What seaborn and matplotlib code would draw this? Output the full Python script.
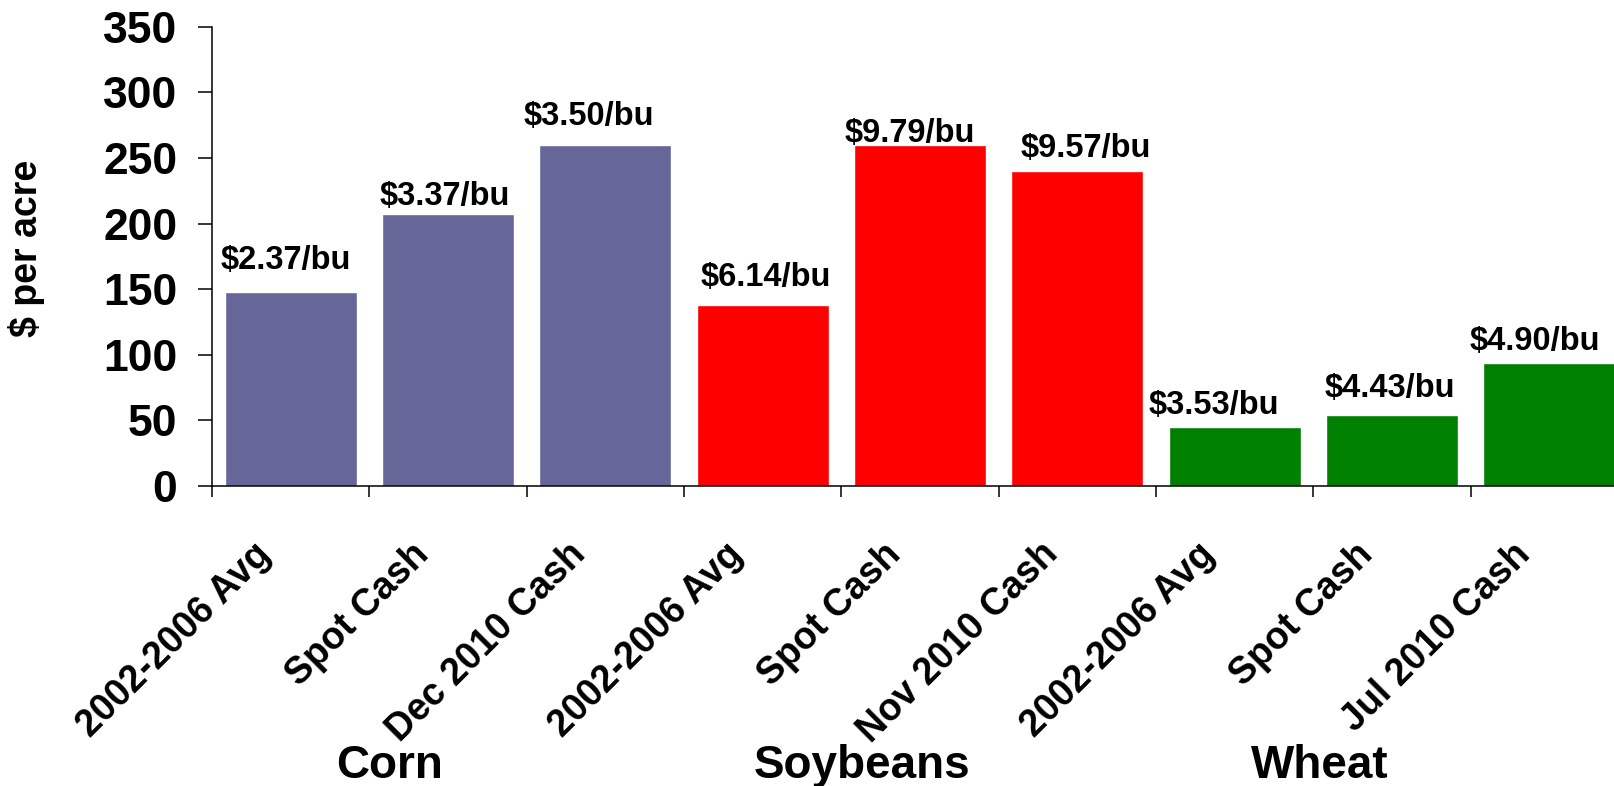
import numpy as np
import pandas as pd
import matplotlib
matplotlib.use("Agg")
import matplotlib.pyplot as plt
import matplotlib.transforms as mtransforms
import seaborn as sns

# ---- data ----
crops = ["Corn", "Corn", "Corn", "Soybeans", "Soybeans", "Soybeans", "Wheat", "Wheat", "Wheat"]
tick_labels = ["2002-2006 Avg", "Spot Cash", "Dec 2010 Cash",
               "2002-2006 Avg", "Spot Cash", "Nov 2010 Cash",
               "2002-2006 Avg", "Spot Cash", "Jul 2010 Cash"]
values = [148, 207, 260, 138, 260, 240, 45, 54, 94]
price_labels = ["$2.37/bu", "$3.37/bu", "$3.50/bu",
                "$6.14/bu", "$9.79/bu", "$9.57/bu",
                "$3.53/bu", "$4.43/bu", "$4.90/bu"]
groups = ["Corn", "Soybeans", "Wheat"]
group_colors = {"Corn": "#666699", "Soybeans": "#FF0000", "Wheat": "#008000"}

# ---- layout / style (not data) ----
label_dx = [-5, -3, -16, 3, -10, 8, -21, -2, -14]   # pixels
label_gap = [23, 9, 20, 19, 3, 14, 13, 18, 13]      # pixels above bar top
group_label_dx = [-0.37, -0.37, -0.46]               # data units from group center

sns.set_theme(style="white")
plt.rcParams["font.family"] = ["Liberation Sans", "DejaVu Sans"]
plt.rcParams["font.weight"] = "bold"
for k in ["text.color", "axes.labelcolor", "xtick.color", "ytick.color", "axes.edgecolor"]:
    plt.rcParams[k] = "black"

keys = [f"{c}|{t}|{i}" for i, (c, t) in enumerate(zip(crops, tick_labels))]
df = pd.DataFrame({"key": keys, "crop": crops, "value": values})

W, H = 1614, 786
fig = plt.figure(figsize=(W / 100, H / 100), dpi=100)
ax = fig.add_axes([212 / W, 1 - 486 / H, 1416 / W, (486 - 26.7) / H])

sns.barplot(data=df, x="key", y="value", hue="crop", order=keys,
            palette=group_colors, dodge=False, width=0.84, saturation=1,
            legend=False, ax=ax)

ax.set_xlim(-0.5, len(keys) - 0.5)
ax.set_ylim(0, 350)
ax.set_yticks(np.arange(0, 351, 50))
ax.set_yticklabels([str(v) for v in range(0, 351, 50)], fontsize=32,
                   fontweight="bold", color="black")
ax.tick_params(axis="y", direction="out", length=10, width=1.1, color="black",
               labelcolor="black", pad=15, left=True)

# major ticks at category boundaries, minor (labelled) at centers
major = np.arange(-0.5, len(keys), 1.0)
ax.set_xticks(major)
ax.set_xticklabels([""] * len(major))
ax.set_xticks(np.arange(len(keys)), minor=True)
ax.set_xticklabels(tick_labels, minor=True, rotation=45, ha="right", va="top",
                   fontsize=27, fontweight="bold", color="black")
ax.tick_params(axis="x", which="major", direction="out", length=8, width=1.1,
               color="black", bottom=True)
ax.tick_params(axis="x", which="minor", length=0, pad=36, labelcolor="black")
offset = mtransforms.ScaledTranslation(-12 / 100, 0, fig.dpi_scale_trans)
for lab in ax.get_xticklabels(minor=True):
    lab.set_transform(lab.get_transform() + offset)

ax.set_xlabel("")
ax.set_ylabel("")
for s in ["top", "right"]:
    ax.spines[s].set_visible(False)
for s in ["left", "bottom"]:
    ax.spines[s].set_color("black")
    ax.spines[s].set_linewidth(1.1)

# value labels
for i, (v, txt) in enumerate(zip(values, price_labels)):
    ax.annotate(txt, xy=(i, v), xytext=(label_dx[i], label_gap[i]),
                textcoords="offset pixels", ha="center", va="baseline",
                fontsize=23.5, fontweight="bold", color="black")

# group labels
blend = mtransforms.blended_transform_factory(ax.transData, fig.transFigure)
for gi, g in enumerate(groups):
    idx = [i for i, c in enumerate(crops) if c == g]
    cx = np.mean(idx) + group_label_dx[gi]
    fig.text(cx, 1 - 778 / H, g, transform=blend, ha="center", va="baseline",
             fontsize=33, fontweight="bold", color="black")

fig.text(27 / W, 1 - 248 / H, "$ per acre", rotation=90, ha="center", va="center",
         fontsize=27, fontweight="bold", color="black")

fig.savefig("out.png", dpi=100, facecolor="white")
